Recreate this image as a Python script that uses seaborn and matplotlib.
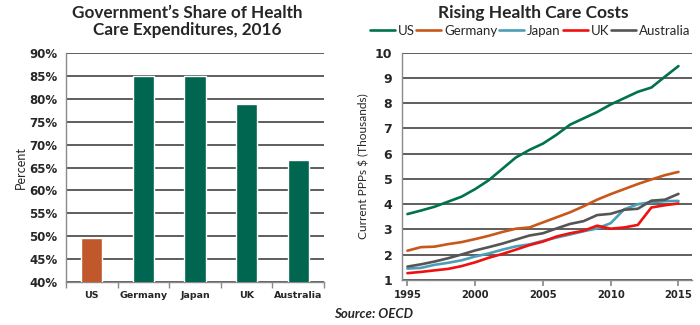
import numpy as np
import pandas as pd
import matplotlib
matplotlib.use("Agg")
import matplotlib.pyplot as plt
from matplotlib.ticker import FuncFormatter, MultipleLocator, FixedLocator
import seaborn as sns

# ---- data ----
countries = ["US", "Germany", "Japan", "UK", "Australia"]
gov_share = [49.5, 85.0, 85.0, 79.0, 66.7]

years = list(range(1995, 2016))
us = [3.61, 3.75, 3.90, 4.10, 4.30, 4.60, 4.95, 5.40, 5.85, 6.15, 6.40,
      6.75, 7.15, 7.40, 7.65, 7.95, 8.20, 8.45, 8.62, 9.05, 9.47]
germany = [2.16, 2.30, 2.32, 2.42, 2.50, 2.62, 2.75, 2.90, 3.03, 3.08, 3.28,
           3.48, 3.68, 3.92, 4.18, 4.40, 4.60, 4.80, 4.98, 5.15, 5.28]
japan = [1.45, 1.48, 1.60, 1.68, 1.78, 1.93, 2.05, 2.20, 2.33, 2.41, 2.55,
         2.68, 2.80, 2.93, 3.04, 3.25, 3.80, 4.00, 4.08, 4.12, 4.13]
uk = [1.27, 1.32, 1.38, 1.44, 1.55, 1.70, 1.88, 2.03, 2.20, 2.38, 2.52,
      2.72, 2.85, 2.95, 3.15, 3.03, 3.08, 3.18, 3.87, 3.96, 4.03]
australia = [1.53, 1.62, 1.73, 1.86, 2.01, 2.17, 2.30, 2.44, 2.60, 2.76, 2.85,
             3.04, 3.22, 3.33, 3.57, 3.62, 3.78, 3.82, 4.14, 4.18, 4.41]
year_ticks = [1995, 2000, 2005, 2010, 2015]

# ---- styling ----
sns.set_theme(style="white")
plt.rcParams["font.family"] = ["DejaVu Sans"]

bar_colors = ["#C0582B", "#006650", "#006650", "#006650", "#006650"]
line_colors = {"US": "#00724C", "Germany": "#C8581A", "Japan": "#4B9EB8",
               "UK": "#F01010", "Australia": "#555555"}
grid_color = "#333333"

fig = plt.figure(figsize=(7.0, 3.25), dpi=100)

# ---- left panel ----
ax1 = fig.add_axes([0.0943, 0.1332, 0.3686, 0.7028])
bar_df = pd.DataFrame({"country": countries, "share": gov_share})
sns.barplot(data=bar_df, x="country", y="share", hue="country",
            palette=bar_colors, legend=False, width=0.41, ax=ax1,
            saturation=1, zorder=3)
ax1.set_ylim(40, 90)
ax1.set_xlim(-0.5, 4.5)
ax1.yaxis.set_major_locator(MultipleLocator(5))
ax1.yaxis.set_major_formatter(FuncFormatter(lambda v, p: f"{v:.0f}%"))
ax1.grid(axis="y", color=grid_color, linewidth=1.1)
ax1.set_axisbelow(True)
for s in ["top", "right"]:
    ax1.spines[s].set_visible(False)
for s in ["left", "bottom"]:
    ax1.spines[s].set_color("#8A8A8A")
    ax1.spines[s].set_linewidth(1.0)
ax1.set_xlabel("")
ax1.set_ylabel("Percent", fontsize=9, family="Lato", labelpad=2)
ax1.tick_params(axis="y", which="major", direction="out", length=4,
                color="#8A8A8A", labelsize=8.5, pad=2)
ax1.tick_params(axis="x", which="major", length=0, labelsize=6.8, pad=7)
ax1.xaxis.set_minor_locator(FixedLocator([-0.5, 0.5, 1.5, 2.5, 3.5, 4.5]))
ax1.tick_params(axis="x", which="minor", direction="out", length=4,
                color="#8A8A8A", bottom=True)
for lab in ax1.get_yticklabels() + ax1.get_xticklabels():
    lab.set_fontweight("bold")

fig.text(0.267, 0.985, "Government\u2019s Share of Health\nCare Expenditures, 2016",
         ha="center", va="top", fontsize=12.3, fontweight="bold",
         family="Lato", linespacing=1.08)

# ---- right panel ----
ax2 = fig.add_axes([0.5743, 0.1385, 0.4143, 0.6994])
line_df = pd.DataFrame({
    "year": years * 5,
    "value": us + germany + japan + uk + australia,
    "country": (["US"] * len(years) + ["Germany"] * len(years)
                + ["Japan"] * len(years) + ["UK"] * len(years)
                + ["Australia"] * len(years)),
})
sns.lineplot(data=line_df, x="year", y="value", hue="country",
             hue_order=countries, palette=line_colors, linewidth=1.9,
             ax=ax2, zorder=3)
ax2.set_xlim(1994.6, 2016.0)
ax2.set_ylim(1, 10)
ax2.set_xticks(year_ticks)
ax2.yaxis.set_major_locator(MultipleLocator(1))
ax2.grid(axis="y", color=grid_color, linewidth=1.1)
ax2.set_axisbelow(True)
for s in ["top", "right"]:
    ax2.spines[s].set_visible(False)
for s in ["left", "bottom"]:
    ax2.spines[s].set_color("#8A8A8A")
    ax2.spines[s].set_linewidth(1.0)
ax2.set_xlabel("")
ax2.set_ylabel("Current PPPs $ (Thousands)", fontsize=8.6, family="Lato", labelpad=4)
ax2.tick_params(axis="y", direction="out", length=4, color="#8A8A8A",
                labelsize=9, pad=3)
ax2.tick_params(axis="x", direction="out", length=4, color="#8A8A8A",
                labelsize=7.2, pad=3, bottom=True)
for lab in ax2.get_yticklabels() + ax2.get_xticklabels():
    lab.set_fontweight("bold")

handles, labels = ax2.get_legend_handles_labels()
ax2.get_legend().remove()
leg = fig.legend(handles, labels, loc="center", bbox_to_anchor=(0.757, 0.905),
                 ncol=5, frameon=False, handlelength=1.9, handletextpad=0.2,
                 columnspacing=0.15, prop={"family": "Lato", "size": 9.5})
for lh in leg.get_lines():
    lh.set_linewidth(1.9)

fig.text(0.762, 0.985, "Rising Health Care Costs", ha="center", va="top",
         fontsize=12.5, fontweight="bold", family="Lato")

fig.text(0.534, 0.035, "Source: OECD", ha="center", va="center",
         fontsize=9.5, fontweight="bold", style="italic", family="Lato")

fig.savefig("out.png", dpi=100)
